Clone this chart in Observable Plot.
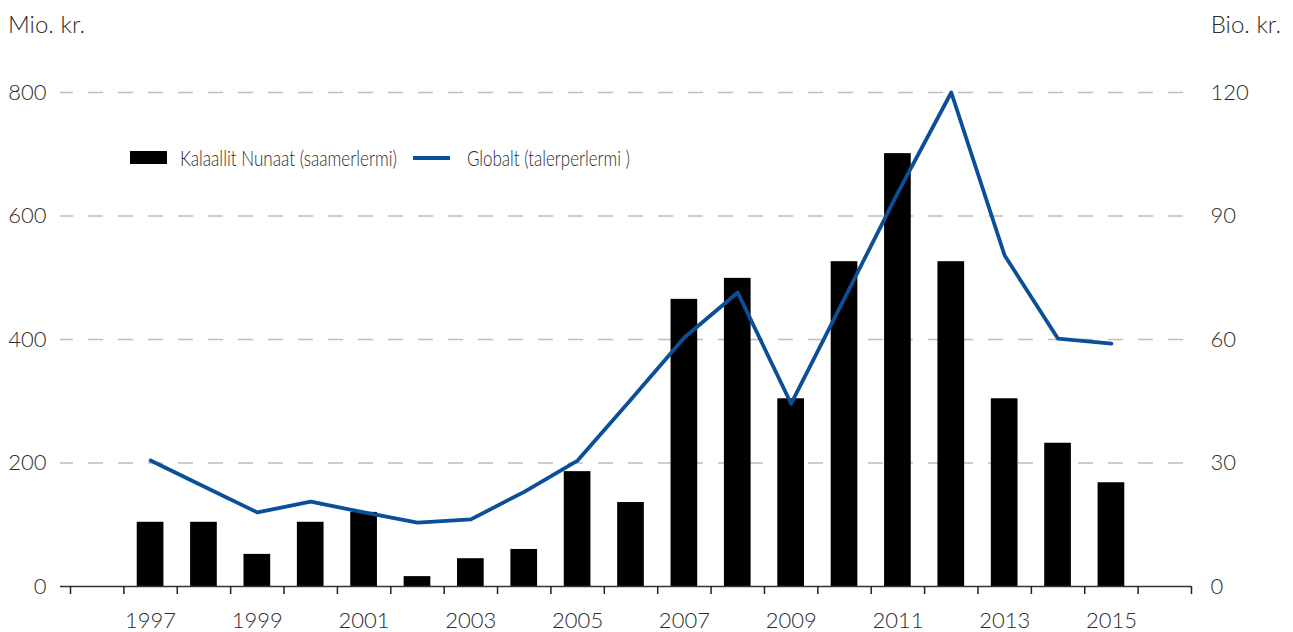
<!DOCTYPE html>
<html><head><meta charset="utf-8">
<script src="https://cdn.jsdelivr.net/npm/d3@7"></script>
<script src="https://cdn.jsdelivr.net/npm/@observablehq/plot@0.6"></script>
<style>
body{margin:0;background:#fff;}
#wrap{position:relative;width:1293px;height:632px;}
#wrap svg text{font-weight:300;}
</style></head>
<body><div id="wrap"></div>
<script>
const years = [1997,1998,1999,2000,2001,2002,2003,2004,2005,2006,2007,2008,2009,2010,2011,2012,2013,2014,2015];
const kalaallit = [104,104,52,104,120,16,45,60,186,136,465,499,304,526,701,526,304,232,168];
const globalt = [30.6,24.3,18,20.6,18,15.5,16.3,23,30.6,45.4,60.5,71.4,44.4,70,95.7,120,80.4,60.2,59];
const leftTicks = [0,200,400,600,800];
const rightTicks = [0,30,60,90,120];
const yearLabels = [1997,1999,2001,2003,2005,2007,2009,2011,2013,2015];
const yearBounds = d3.range(1995.5, 2017, 1);
const seriesNames = ["Kalaallit Nunaat (saamerlermi)", "Globalt (talerperlermi )"];
const unitLeft = "Mio. kr.";
const unitRight = "Bio. kr.";

const S = 800 / 120;
const data = years.map((y, i) => ({year: y, k: kalaallit[i], g: globalt[i]}));
const FONT = "Lato, 'Open Sans', sans-serif";
const TXT = "#2b2b2b";
const BLUE = "#0b4f97";

const chart = Plot.plot({
  width: 1293, height: 632,
  marginLeft: 60, marginRight: 102, marginTop: 92, marginBottom: 46,
  x: {type: "linear", domain: [1995.5, 2016.5], insetLeft: 10},
  y: {domain: [0, 800]},
  style: {fontFamily: FONT, fontSize: "22px", color: TXT, background: "#fff"},
  marks: [
    Plot.ruleY(leftTicks.filter(d => d > 0), {stroke: "#bdbdbd", strokeWidth: 1.5, strokeDasharray: "15,15", strokeDashoffset: 2}),
    Plot.rectY(data, {x1: d => d.year - 0.25, x2: d => d.year + 0.25, y: "k", fill: "#000"}),
    Plot.line(data, {x: "year", y: d => d.g * S, stroke: BLUE, strokeWidth: 3.8}),
    Plot.ruleY([0], {stroke: "#333", strokeWidth: 1.5}),
    Plot.axisY({anchor: "left", ticks: leftTicks, tickSize: 0, tickPadding: 14, label: null, fontSize: 22, fill: TXT}),
    Plot.axisY({anchor: "right", ticks: rightTicks.map(d => d * S), tickSize: 0, tickPadding: 19, tickFormat: d => String(Math.round(d / S)), label: null, fontSize: 22, fill: TXT}),
    Plot.axisX({ticks: yearBounds, tickSize: 8, tickFormat: () => "", label: null, stroke: "#222", strokeWidth: 1.5}),
    Plot.axisX({ticks: yearLabels, tickSize: 0, tickPadding: 26, tickFormat: d => String(d), label: null, fontSize: 22, fill: TXT})
  ]
});
document.getElementById("wrap").appendChild(chart);

const svg = d3.select(chart);
const g = svg.append("g").attr("font-family", FONT).attr("fill", TXT).attr("text-anchor", "start");
g.append("text").attr("x", 8).attr("y", 33).attr("font-size", 24).attr("text-anchor", "start").text(unitLeft);
g.append("text").attr("x", 1281).attr("y", 33).attr("font-size", 24).attr("text-anchor", "end").text(unitRight);
// legend
g.append("rect").attr("x", 130).attr("y", 151).attr("width", 37).attr("height", 13).attr("fill", "#000");
g.append("text").attr("x", 180).attr("y", 166).attr("font-size", 22).attr("text-anchor", "start")
  .attr("textLength", 217).attr("lengthAdjust", "spacingAndGlyphs").text(seriesNames[0]);
g.append("line").attr("x1", 413).attr("x2", 450).attr("y1", 158).attr("y2", 158).attr("stroke", BLUE).attr("stroke-width", 3.8);
g.append("text").attr("x", 467).attr("y", 166).attr("font-size", 22).attr("text-anchor", "start")
  .attr("textLength", 163).attr("lengthAdjust", "spacingAndGlyphs").text(seriesNames[1]);
</script>
</body></html>
